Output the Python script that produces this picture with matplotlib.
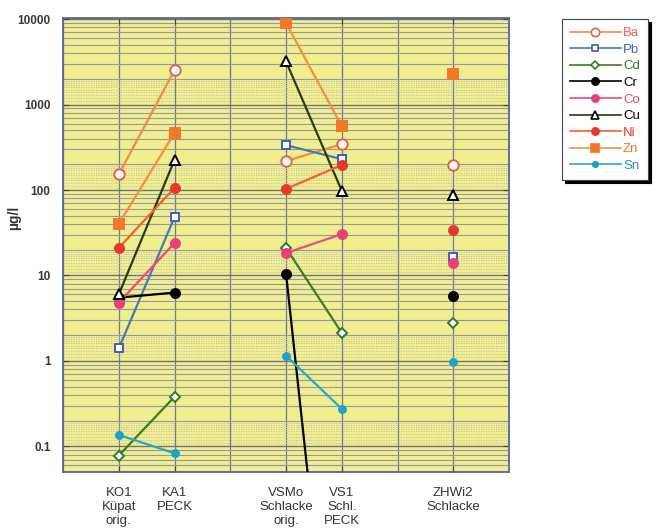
import numpy as np
import matplotlib
matplotlib.use("Agg")
import matplotlib.pyplot as plt
from matplotlib.lines import Line2D

plt.rcParams['font.family'] = ['Liberation Sans', 'DejaVu Sans']

# Samples (columns) and their labels
samples = ["KO1\nKüpat\norig.", "KA1\nPECK", "VSMo\nSchlacke\norig.", "VS1\nSchl.\nPECK", "ZHWi2\nSchlacke"]
# Concentrations in µg/l, one value per sample
ba = [152, 2530, 218, 345, 196]
pb = [1.4, 48, 335, 230, 16.5]
cd = [0.078, 0.38, 21, 2.13, 2.8]
cr = [5.5, 6.3, 10.5, 0.00001, 5.8]
co = [4.8, 24, 18.3, 30.5, 14]
cu = [6.0, 225, 3200, 98, 88]
ni = [21, 106, 103, 196, 34]
zn = [40, 465, 9000, 560, 2300]
sn = [0.136, 0.083, 1.15, 0.275, 0.97]

yticks = [0.1, 1, 10, 100, 1000, 10000]
ytick_labels = ["0.1", "1", "10", "100", "1000", "10000"]

# x positions on the category axis; pairs are joined by lines
xpos = [1, 2, 4, 5, 7]
pairs = [(0, 1), (2, 3), (4,)]

series = [
    # name, values, line colour, marker, edge colour, face colour, size, text colour
    ("Ba", ba, "#f28a48", "o", "#e8604a", "white", 7.5, "#e8605a"),
    ("Pb", pb, "#4a78b0", "s", "#3f5fc0", "white", 6, "#4a62b8"),
    ("Cd", cd, "#3f7a22", "D", "#2e7a2e", "white", 5.5, "#2e7a2e"),
    ("Cr", cr, "#000000", "o", "#000000", "#000000", 6.5, "#000000"),
    ("Co", co, "#ec4c78", "o", "#e8407a", "#e8407a", 6.5, "#e8407a"),
    ("Cu", cu, "#2a3a12", "^", "#000000", "white", 6.5, "#000000"),
    ("Ni", ni, "#f0622e", "o", "#e8382a", "#e8382a", 6.5, "#e8382a"),
    ("Zn", zn, "#f49040", "s", "#f07828", "#f07828", 6.5, "#f07828"),
    ("Sn", sn, "#2aa8c8", "o", "#20a0c8", "#20a0c8", 5, "#2a8ec8"),
]

fig = plt.figure(figsize=(6.64, 5.31), dpi=100)
ax = fig.add_axes([0.0949, 0.111, 0.6717, 0.855])
ax.set_facecolor("#f1ee8e")
ax.set_yscale("log")
ax.set_xlim(0, 8)
ax.set_ylim(0.05, 10300)

# grid: vertical at every integer, horizontal at decades and sub-decades
for xv in range(0, 9):
    ax.axvline(xv, color="#6f7898", lw=0.9, zorder=1)
for e in range(-2, 5):
    base = 10.0 ** e
    ax.axhline(base, color="#707080", lw=1.0, zorder=1)
    for m in np.arange(1.1, 2.0, 0.1):
        ax.axhline(base * m, color="#bdbcae", lw=0.6, ls=(0, (1.5, 1.5)), zorder=1)
    for m in range(2, 10):
        ax.axhline(base * m, color="#9297ad", lw=0.8, zorder=1)

for name, vals, lc, mk, mec, mfc, ms, tc in series:
    for grp in pairs:
        xs = [xpos[i] for i in grp]
        ys = [vals[i] for i in grp]
        ax.plot(xs, ys, color=lc, lw=1.6, zorder=3)
    ax.plot(xpos, vals, ls="none", marker=mk, ms=ms, mec=mec, mfc=mfc, mew=1.4, zorder=4)

ax.set_xticks(xpos)
ax.set_xticklabels(samples, fontsize=9.5, color="#333333", linespacing=1.2)
ax.set_yticks(yticks)
ax.set_yticklabels(ytick_labels, fontsize=8.5, color="#3a3a3a", fontweight="bold")
ax.yaxis.set_minor_locator(matplotlib.ticker.NullLocator())
ax.tick_params(axis="both", direction="in", length=4, color="#404050", right=True, top=True)
ax.tick_params(axis="x", pad=11)
ax.tick_params(axis="y", pad=9)
ax.set_ylabel("µg/l", fontsize=10, fontweight="bold", color="#333333")
ax.yaxis.set_label_coords(-0.094, 0.56)
for sp in ax.spines.values():
    sp.set_color("#5a6490")
    sp.set_linewidth(1.3)

handles = [Line2D([0], [0], color=lc, lw=1.2, marker=mk, ms=ms * 0.8, mec=mec, mfc=mfc, mew=1.2)
           for name, vals, lc, mk, mec, mfc, ms, tc in series]
leg = fig.legend(handles, [s[0] for s in series], loc="upper left",
                 bbox_to_anchor=(0.846, 0.964), frameon=True, fontsize=9.5,
                 handlelength=3.9, handletextpad=0.15, labelspacing=0.33,
                 borderpad=0.6, borderaxespad=0.0, fancybox=False,
                 shadow={"color": "black", "alpha": 1.0})
leg.get_frame().set_edgecolor("#444444")
leg.get_frame().set_linewidth(0.8)
for txt, s in zip(leg.get_texts(), series):
    txt.set_color(s[7])

fig.savefig("out.png", dpi=100)
